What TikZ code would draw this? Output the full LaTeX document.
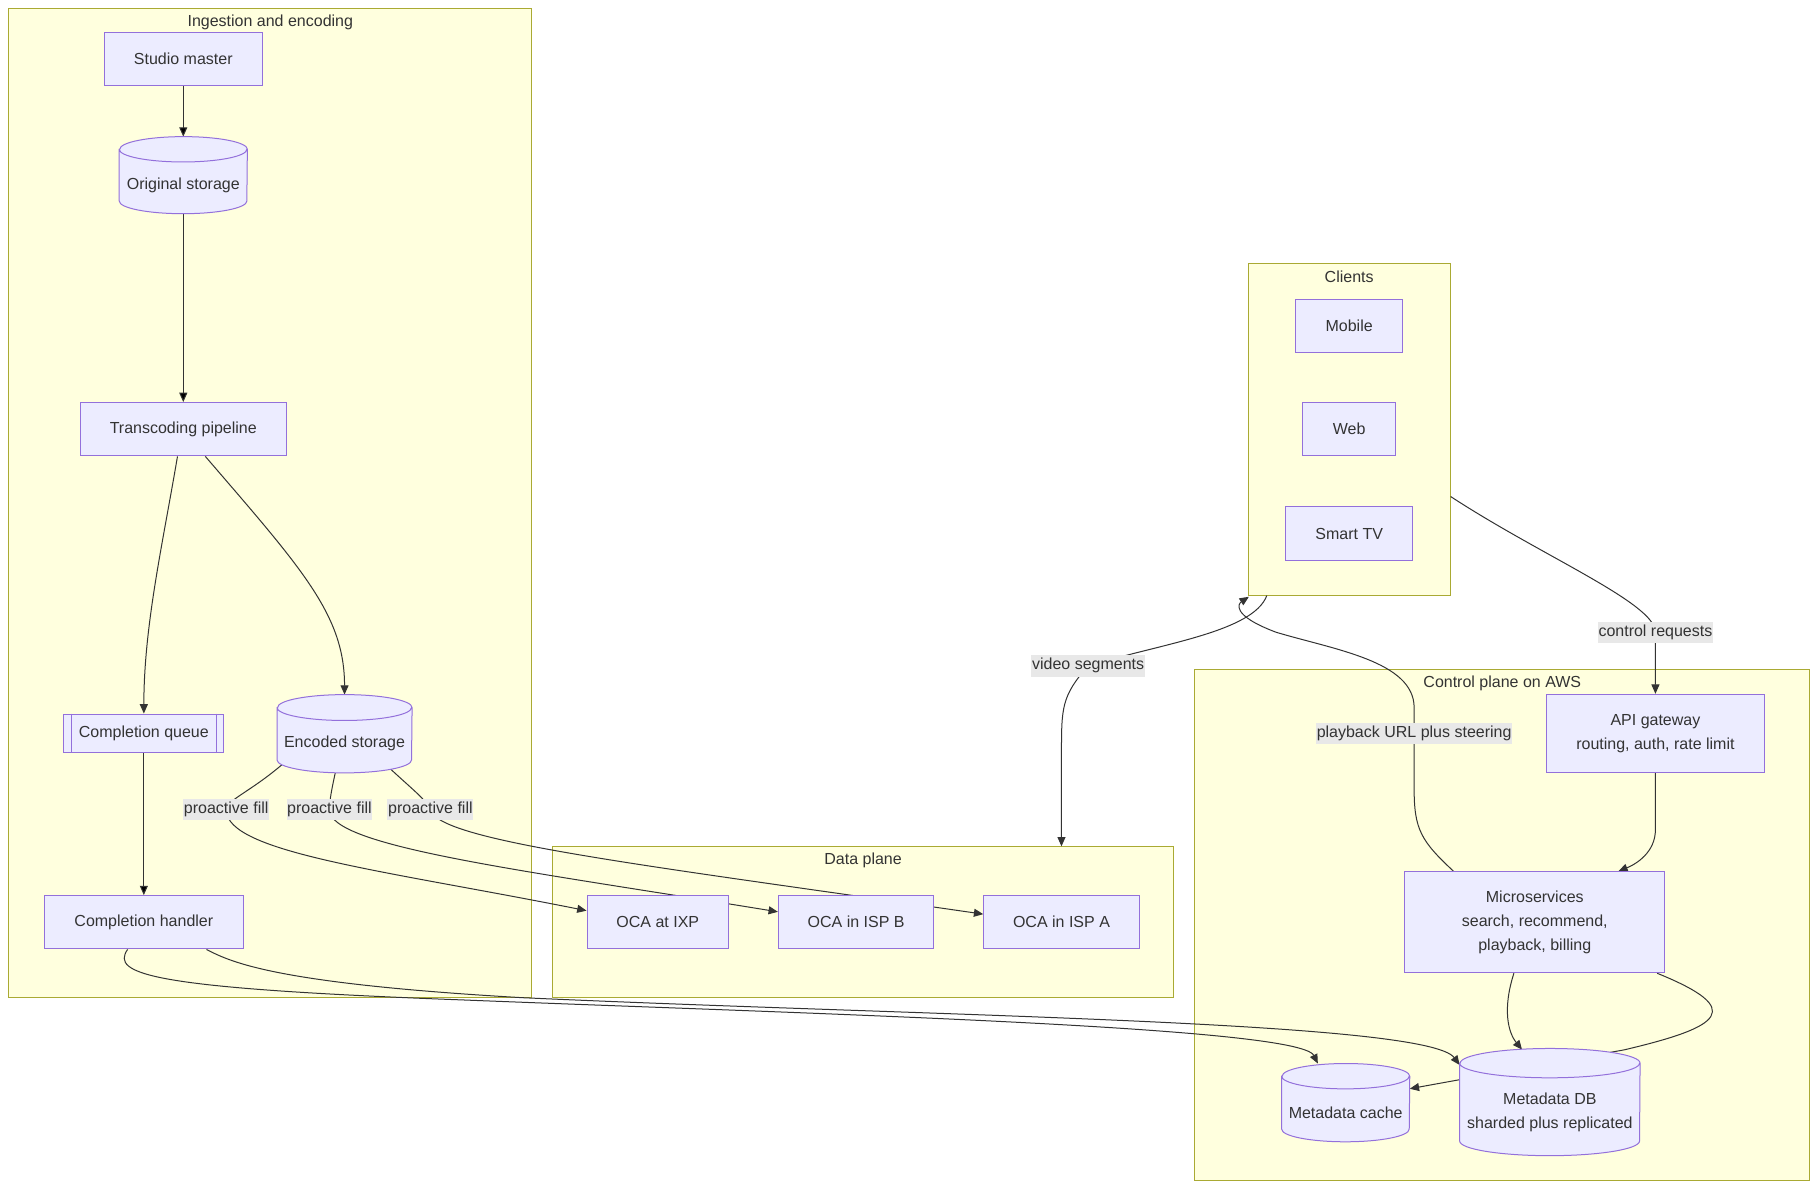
\documentclass[tikz,border=0pt]{standalone}
\usepackage{fontspec}
\setmainfont{Liberation Sans}
\usetikzlibrary{arrows.meta}
\definecolor{boxfill}{HTML}{ECECFF}
\definecolor{boxline}{HTML}{9370DB}
\definecolor{grpfill}{HTML}{FFFFDE}
\definecolor{grpline}{HTML}{AAAA33}
\definecolor{wire}{HTML}{333333}
\definecolor{lblfill}{HTML}{E8E8E8}
\definecolor{ink}{HTML}{333333}
\pgfdeclarelayer{background}
\pgfdeclarelayer{wires}
\pgfdeclarelayer{drums}
\pgfsetlayers{background,wires,drums,main}
\tikzset{
  txt/.style={font=\fontsize{12}{18}\selectfont, text=ink, align=center},
  box/.style={txt, draw=boxline, fill=boxfill, line width=0.75pt, inner sep=0pt, minimum height=40pt},
  store/.style={inner sep=0pt},
  drum/.style={draw=boxline, fill=boxfill, line width=0.75pt},
  grp/.style={draw=grpline, fill=grpfill, line width=0.75pt, inner sep=0pt},
  grptitle/.style={txt, inner sep=0pt},
  lbl/.style={txt, fill=lblfill, inner xsep=0.5pt, inner ysep=2pt, text height=9pt, text depth=3pt},
  flow/.style={draw=wire, line width=0.75pt, -{Triangle[length=7pt,width=6pt]}},
}

\begin{document}
\begin{tikzpicture}[x=0.87pt, y=-0.87pt]
  \useasboundingbox (0,0) rectangle (1568,1025);
  \begin{pgfonlayer}{background}
    \node[grp, minimum width=392.4pt, minimum height=742.1pt] (ingest) at (232.5,433.5) {};
    \node[grp, minimum width=151.4pt, minimum height=248.8pt] (clients) at (1163,370) {};
    \node[grp, minimum width=466.3pt, minimum height=113.1pt] (dataplane) at (744,795) {};
    \node[grp, minimum width=461.1pt, minimum height=383.7pt] (aws) at (1295,797.5) {};
  \end{pgfonlayer}
  \node[grptitle] (ingesttitle) at (233,19) {Ingestion and encoding};
  \node[grptitle] (clientstitle) at (1163,239) {Clients};
  \node[grptitle] (dataplanetitle) at (744,742) {Data plane};
  \node[grptitle] (awstitle) at (1295,589) {Control plane on AWS};

  \node[box, minimum width=118.3pt] (studio) at (158,51) {Studio master};
  \node[store, minimum width=95.7pt, minimum height=57.4pt,
    label={[txt, yshift=-7.4pt]center:Original storage}] (orig) at (158,151) {};
  \node[box, minimum width=154.9pt] (transcode) at (158,370) {Transcoding pipeline};
  \node[box, minimum width=120pt, minimum height=28.7pt] (queue) at (124,632) {Completion queue};
  \node[store, minimum width=100.9pt, minimum height=58.3pt,
    label={[txt, yshift=-7.4pt]center:Encoded storage}] (encoded) at (297,632.5) {};
  \node[box, minimum width=148.8pt] (handler) at (124,795) {Completion handler};
  \draw[boxline, line width=0.75pt] ([shift={(7,0)}]queue.north west) -- ([shift={(7,0)}]queue.south west)
    ([shift={(-7,0)}]queue.north east) -- ([shift={(-7,0)}]queue.south east);

  \node[box, minimum width=106.1pt] (ixp) at (567,795) {OCA at IXP};
  \node[box, minimum width=116.6pt] (ispb) at (738,795) {OCA in ISP B};
  \node[box, minimum width=116.6pt] (ispa) at (915,795) {OCA in ISP A};

  \node[box, minimum width=80pt] (mobile) at (1163,281) {Mobile};
  \node[box, minimum width=69.6pt] (web) at (1163,370) {Web};
  \node[box, minimum width=95.7pt] (tv) at (1163,460) {Smart TV};

  \node[box, minimum width=163.6pt, minimum height=58.3pt] (gateway) at (1427,632) {API gateway\\routing, auth, rate limit};
  \node[box, minimum width=194.9pt, minimum height=75.7pt] (micro) at (1323,795) {Microservices\\search, recommend,\\playback, billing};
  \node[store, minimum width=95.7pt, minimum height=58.3pt,
    label={[txt, yshift=-7.4pt]center:Metadata cache}] (cache) at (1160,950.5) {};
  \node[store, minimum width=134.9pt, minimum height=80pt,
    label={[txt, yshift=-7.4pt]center:{Metadata DB\\sharded plus replicated}}] (metadb) at (1336,950) {};

  \begin{pgfonlayer}{drums}
    \foreach \n/\w/\r in {orig/47.85pt/9.5pt, encoded/50.45pt/9.7pt, cache/47.85pt/9.5pt, metadb/67.45pt/11pt}
      \draw[drum] ([yshift=-\r]\n.north west) -- ([yshift=\r]\n.south west)
        arc[start angle=180, end angle=360, x radius=\w, y radius=\r]
        -- ([yshift=-\r]\n.north east)
        arc[start angle=0, end angle=180, x radius=\w, y radius=\r] -- cycle
        ([yshift=-\r]\n.north west) arc[start angle=180, end angle=360, x radius=\w, y radius=\r];
  \end{pgfonlayer}

  \begin{pgfonlayer}{wires}
    \path[flow]
      (studio) edge (orig)
      (orig) edge (transcode)
      (queue) edge (handler);
    \draw[flow] ([shift={(-5,0)}]transcode.south) .. controls (140,470) and (124,540) .. (queue.north);
    \draw[flow] ([shift={(19,0)}]transcode.south) .. controls (260,490) and (297,530) .. (encoded.north);
    \draw[flow] ([shift={(-54,-7)}]encoded.south) .. controls (215,683) and (195,690) .. (195,698)
      node[lbl] {proactive fill} .. controls (195,735) and (330,750) .. ([shift={(0,-10)}]ixp.west);
    \draw[flow] ([shift={(-8,0)}]encoded.south) .. controls (286,680) and (284,690) .. (284,698)
      node[lbl] {proactive fill} .. controls (284,730) and (450,750) .. ([shift={(0,-9)}]ispb.west);
    \draw[flow] ([shift={(40,-3)}]encoded.south) .. controls (355,680) and (368,690) .. (371,698)
      node[lbl] {proactive fill} .. controls (378,725) and (550,745) .. ([shift={(0,-7)}]ispa.west);
    \draw[flow] ([shift={(-14,0)}]handler.south) .. controls (95,840) and (130,852) .. (400,862)
      .. controls (700,874) and (1120,885) .. ([shift={(-24,0)}]cache.north);
    \draw[flow] ([shift={(54,0)}]handler.south) .. controls (200,830) and (240,848) .. (450,860)
      .. controls (800,876) and (1230,880) .. ([shift={(0,-32)}]metadb.west);
    \draw[flow] ([shift={(0,58)}]clients.east) .. controls (1330,480) and (1427,520) .. (1427,545)
      node[lbl] {control requests} -- (gateway.north);
    \draw[flow] ([shift={(-71,0)}]clients.south) .. controls (1080,545) and (1000,555) .. (938,574)
      node[lbl] {video segments} .. controls (915,600) and (915,610) .. (915,650) -- (ispa |- dataplane.north);
    \draw[flow] ([shift={(-70,0)}]micro.north) .. controls (1225,725) and (1219,715) .. (1219,680) -- (1219,632)
      node[lbl] {playback URL plus steering} -- (1219,610) .. controls (1219,570) and (1150,560) .. (1100,545)
      .. controls (1060,530) and (1068,520) .. ([shift={(1,1)}]clients.south west);
    \draw[flow] (gateway.south) -- (1427,715) .. controls (1427,735) and (1410,745) .. ([shift={(72,0)}]micro.north);
    \draw[flow] ([shift={(-18,0)}]micro.south) .. controls (1295,870) and (1300,890) .. ([shift={(-24,1)}]metadb.north);
    \draw[flow] ([shift={(-7,0)}]micro.south east) .. controls (1505,870) and (1485,885) .. (1400,905)
      -- ([shift={(0,-12)}]cache.east);
  \end{pgfonlayer}
\end{tikzpicture}
\end{document}
